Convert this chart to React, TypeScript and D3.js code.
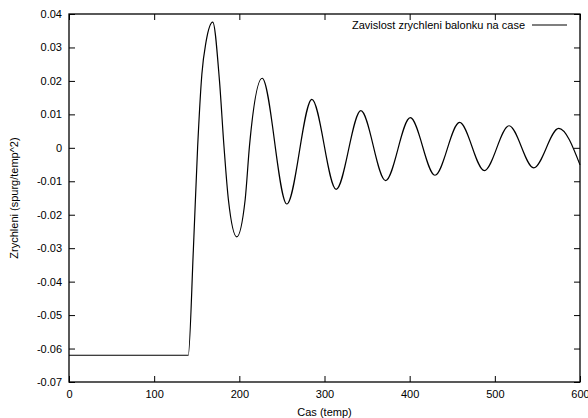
import React, { useRef, useEffect } from "react";
import * as d3 from "d3";

// values (time in "temp", acceleration)
const time = [0, 140, 146, 151, 156, 161, 168.8,
    176.6, 182, 187.2, 197, 206.8, 212, 226.8, 255.8, 285.2, 313.7, 342.7,
    371.7, 400.7, 429.7, 458.6, 487.7, 516.7, 545.6, 575, 600];
const accel = [-0.062, -0.062, -0.0306, 0, 0.022, 0.0318, 0.0376,
    0.0203, 0.0003, -0.0156, -0.0266, -0.0156, 0.0008, 0.0208, -0.0168, 0.0145, -0.0124, 0.0111,
    -0.0098, 0.009, -0.0082, 0.0076, -0.0068, 0.0066, -0.006, 0.0058, -0.0051];

const xTicks = [0, 100, 200, 300, 400, 500, 600];
const yTicks = [-0.07, -0.06, -0.05, -0.04, -0.03, -0.02, -0.01, 0, 0.01, 0.02, 0.03, 0.04];

const xTitle = "Cas (temp)";
const yTitle = "Zrychleni (spurg/temp^2)";
const legendLabel = "Zavislost zrychleni balonku na case";

function App() {
    const svgRef = useRef(null);
    useEffect(() => {
        const width = 588, height = 418;
        const left = 69, right = 580, top = 14, bottom = 382;
        const font = "'Liberation Sans', Arial, Helvetica, sans-serif";

        const svg = d3.select(svgRef.current)
            .attr("width", width)
            .attr("height", height)
            .style("font-family", font);

        const x = d3.scaleLinear().domain([0, 600]).range([left, right]);
        const y = d3.scaleLinear().domain([-0.07, 0.04]).range([bottom, top]);

        const fmt = (d) => {
            const v = Math.round(d * 100) / 100;
            return v === 0 ? "0" : String(v);
        };

        // axes, ticks pointing inwards like gnuplot
        const styleAxis = (g) => {
            g.select(".domain").remove();
            g.selectAll(".tick line").attr("stroke", "#000");
            g.selectAll(".tick text").attr("fill", "#000").style("font-size", "11px").style("font-family", font);
        };

        svg.append("g")
            .attr("transform", `translate(0,${bottom})`)
            .call(d3.axisBottom(x).tickValues(xTicks).tickSizeInner(-6).tickSizeOuter(0).tickPadding(8).tickFormat(d3.format("d")))
            .call(styleAxis);
        svg.append("g")
            .attr("transform", `translate(0,${top})`)
            .call(d3.axisTop(x).tickValues(xTicks).tickSizeInner(-6).tickSizeOuter(0).tickFormat(() => ""))
            .call(styleAxis);
        svg.append("g")
            .attr("transform", `translate(${left},0)`)
            .call(d3.axisLeft(y).tickValues(yTicks).tickSizeInner(-6).tickSizeOuter(0).tickPadding(7).tickFormat(fmt))
            .call(styleAxis);
        svg.append("g")
            .attr("transform", `translate(${right},0)`)
            .call(d3.axisRight(y).tickValues(yTicks).tickSizeInner(-6).tickSizeOuter(0).tickFormat(() => ""))
            .call(styleAxis);

        svg.append("rect")
            .attr("x", left)
            .attr("y", top)
            .attr("width", right - left)
            .attr("height", bottom - top)
            .attr("fill", "none")
            .attr("stroke", "#000")
            .attr("stroke-width", 1.3);

        const points = time.map((t, i) => [t, accel[i]]);
        const line = d3.line()
            .x((d) => x(d[0]))
            .y((d) => y(d[1]))
            .curve(d3.curveMonotoneX);

        svg.append("path")
            .datum(points)
            .attr("d", line)
            .attr("fill", "none")
            .attr("stroke", "#000")
            .attr("stroke-width", 1.2);

        // legend
        svg.append("text")
            .attr("x", 525)
            .attr("y", 29)
            .attr("text-anchor", "end")
            .style("font-size", "11px")
            .text(legendLabel);
        svg.append("line")
            .attr("x1", 532).attr("x2", 567)
            .attr("y1", 25).attr("y2", 25)
            .attr("stroke", "#000")
            .attr("stroke-width", 1.2);

        // titles
        svg.append("text")
            .attr("x", (left + right) / 2)
            .attr("y", 416)
            .attr("text-anchor", "middle")
            .style("font-size", "11px")
            .text(xTitle);
        svg.append("text")
            .attr("transform", `translate(18,${(top + bottom) / 2}) rotate(-90)`)
            .attr("text-anchor", "middle")
            .style("font-size", "11px")
            .text(yTitle);

        return () => {
            d3.select(svgRef.current).selectAll("*").remove();
        };
    }, []);

    return (
        <svg ref={svgRef} style={{ position: "absolute", left: 0, top: 0, background: "#fff" }}></svg>
    );
}

export default App;
